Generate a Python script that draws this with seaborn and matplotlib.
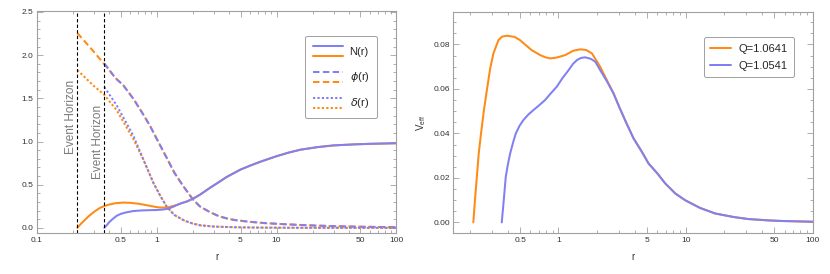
import numpy as np
import matplotlib
matplotlib.use('Agg')
import matplotlib.pyplot as plt
import seaborn as sns
from matplotlib.lines import Line2D
from matplotlib.legend_handler import HandlerBase
from matplotlib.ticker import FixedLocator, FixedFormatter, MultipleLocator, NullFormatter

# ---- data ----
# horizons
r_h = [0.217, 0.365]

# N(r)
rN_or = [0.217, 0.23, 0.25, 0.27, 0.3, 0.336, 0.365, 0.4, 0.45, 0.526, 0.6, 0.7, 0.8,
         0.9, 1.0, 1.1, 1.25, 1.47]
N_or = [0.0, 0.04, 0.09, 0.135, 0.187, 0.232, 0.253, 0.27, 0.285, 0.293, 0.29, 0.28,
        0.266, 0.252, 0.24, 0.234, 0.238, 0.265]
rN_bl = [0.365, 0.375, 0.382, 0.4, 0.43, 0.463, 0.5, 0.55, 0.638, 0.75, 0.879, 1.0,
         1.1, 1.21, 1.35, 1.47]
N_bl = [0.0, 0.02, 0.03, 0.065, 0.105, 0.14, 0.162, 0.178, 0.195, 0.202, 0.205, 0.207,
        0.211, 0.218, 0.24, 0.265]
rN_tail = [1.6, 1.78, 2.02, 2.3, 2.79, 3.3, 3.84, 5, 6, 7.3, 10, 12.5, 15.8, 22, 30,
           45, 60, 80, 100]
N_tail = [0.285, 0.305, 0.34, 0.385, 0.465, 0.53, 0.59, 0.675, 0.72, 0.765, 0.83, 0.87,
          0.905, 0.935, 0.955, 0.967, 0.973, 0.977, 0.98]

# phi(r)
rP_or = [0.217, 0.25, 0.3, 0.365]
P_or = [2.256, 2.16, 2.035, 1.893]
rP_bl = [0.365]
P_bl = [1.905]
rP_tail = [0.4, 0.45, 0.526, 0.638, 0.75, 0.879, 1.0, 1.21, 1.4, 1.67, 2.0, 2.3, 2.8,
           3.3, 3.85, 4.5, 6, 8, 11.4, 15, 20, 30, 50, 100]
P_tail = [1.83, 1.737, 1.65, 1.494, 1.34, 1.18, 1.03, 0.811, 0.64, 0.48, 0.33, 0.246,
          0.18, 0.135, 0.109, 0.09, 0.07, 0.055, 0.043, 0.035, 0.028, 0.02, 0.013, 0.008]

# delta(r)
rD_or = [0.217, 0.25, 0.3, 0.365, 0.463, 0.638]
D_or = [1.827, 1.745, 1.64, 1.54, 1.36, 1.027]
rD_bl = [0.365, 0.463, 0.638]
D_bl = [1.631, 1.417, 1.066]
rD_tail = [0.773, 0.937, 1.07, 1.21, 1.4, 1.67, 1.85, 2.0, 2.3, 3.0, 4.5, 7, 15, 100]
D_tail = [0.79, 0.52, 0.37, 0.246, 0.15, 0.09, 0.065, 0.05, 0.03, 0.015, 0.007, 0.003,
          0.001, 0.0]

# V_eff
rV_or = [0.214, 0.22, 0.228, 0.236, 0.246, 0.26, 0.276, 0.29, 0.308, 0.337, 0.36,
         0.392, 0.45, 0.499, 0.55, 0.617, 0.718, 0.79, 0.86, 0.97, 1.13, 1.3, 1.48,
         1.65, 1.83, 2.0, 2.13, 2.4]
V_or = [0.0, 0.0095, 0.0205, 0.031, 0.040, 0.051, 0.061, 0.069, 0.076, 0.0819, 0.0835,
        0.0839, 0.0834, 0.0819, 0.0798, 0.0774, 0.0752, 0.0742, 0.0737, 0.0741, 0.0752,
        0.0771, 0.0778, 0.0775, 0.076, 0.0725, 0.0699, 0.064]
rV_bl = [0.358, 0.37, 0.385, 0.4, 0.417, 0.44, 0.462, 0.495, 0.53, 0.58, 0.636, 0.7,
         0.785, 0.87, 0.97, 1.08, 1.2, 1.3, 1.4, 1.5, 1.62, 1.8, 1.95, 2.13, 2.4]
V_bl = [0.0, 0.009, 0.0205, 0.026, 0.031, 0.036, 0.040, 0.0435, 0.046, 0.0485, 0.0505,
        0.0525, 0.055, 0.058, 0.061, 0.065, 0.0684, 0.0712, 0.073, 0.0739, 0.0742,
        0.0735, 0.0722, 0.0684, 0.0635]
rV_tail = [2.71, 3.0, 3.4, 3.9, 4.5, 5.11, 6, 6.92, 8.3, 9.9, 13, 17.1, 24, 31.3, 45,
           60, 100]
V_tail = [0.058, 0.052, 0.045, 0.0377, 0.032, 0.0265, 0.022, 0.0175, 0.013, 0.01,
          0.0065, 0.004, 0.0024, 0.0015, 0.0009, 0.0006, 0.0003]

labels_Q = ['Q=1.0641', 'Q=1.0541']

# ---- style ----
sns.set_theme(style="ticks")
plt.rcParams['font.family'] = ['Liberation Sans', 'DejaVu Sans']
plt.rcParams['mathtext.fontset'] = 'dejavusans'

BLUE = '#8080f4'
ORANGE = '#ff8a14'
FRAME = '#a0a0a0'
LW = 1.45
DASH = (0, (3.2, 1.7))
DOT = (0, (1.1, 1.1))


class PairHandler(HandlerBase):
    # two stacked sample lines for one legend label
    def create_artists(self, legend, orig_handle, xdescent, ydescent, width, height,
                       fontsize, trans):
        arts = []
        for frac, h in zip((0.82, 0.18), orig_handle):
            y = height * frac - ydescent
            ln = Line2D([-xdescent, -xdescent + width], [y, y])
            ln.update_from(h)
            ln.set_data([-xdescent, -xdescent + width], [y, y])
            ln.set_transform(trans)
            arts.append(ln)
        return arts


def curve(ax, r, y, color, ls):
    sns.lineplot(x=r, y=y, ax=ax, color=color, linewidth=LW, linestyle=ls,
                 estimator=None, sort=False)
    ax.lines[-1].set_solid_joinstyle('round')
    ax.lines[-1].set_dash_joinstyle('round')


def frame(ax):
    for s in ax.spines.values():
        s.set_color(FRAME)
        s.set_linewidth(0.8)
    ax.tick_params(which='both', direction='in', top=True, right=True,
                   color=FRAME, labelcolor='#333333', labelsize=6, width=0.6, pad=2.5)
    ax.tick_params(which='major', length=4)
    ax.tick_params(which='minor', length=2.2)


fig = plt.figure(figsize=(8.3, 2.74), dpi=100)
ax1 = fig.add_axes([0.0446, 0.1485, 0.4329, 0.811])
ax2 = fig.add_axes([0.5462, 0.1485, 0.4330, 0.8088])

# ---- left panel ----
curve(ax1, rN_or + rN_tail, N_or + N_tail, ORANGE, '-')
curve(ax1, rN_bl + rN_tail, N_bl + N_tail, BLUE, '-')
curve(ax1, rP_or + rP_tail, P_or + P_tail, ORANGE, DASH)
curve(ax1, rP_bl + rP_tail, P_bl + P_tail, BLUE, DASH)
curve(ax1, rD_or + rD_tail, D_or + D_tail, ORANGE, DOT)
curve(ax1, rD_bl + rD_tail, D_bl + D_tail, BLUE, DOT)

for rh in r_h:
    ax1.axvline(rh, color='black', lw=0.8, linestyle=(0, (3, 2)))
ax1.text(0.191, 1.29, 'Event Horizon', rotation=90, ha='center', va='center',
         color='#7a7a7a', fontsize=8.5)
ax1.text(0.321, 0.99, 'Event Horizon', rotation=90, ha='center', va='center',
         color='#7a7a7a', fontsize=8.5)

ax1.set_xscale('log')
ax1.set_xlim(0.1, 100)
ax1.set_ylim(-0.063, 2.51)
xt = [0.1, 0.5, 1, 5, 10, 50, 100]
ax1.xaxis.set_major_locator(FixedLocator(xt))
ax1.xaxis.set_major_formatter(FixedFormatter(['0.1', '0.5', '1', '5', '10', '50', '100']))
minors = [m * 10.0 ** e for e in (-1, 0, 1) for m in range(2, 10) if m != 5]
ax1.xaxis.set_minor_locator(FixedLocator(minors))
ax1.xaxis.set_minor_formatter(NullFormatter())
ax1.yaxis.set_major_locator(MultipleLocator(0.5))
ax1.yaxis.set_minor_locator(MultipleLocator(0.1))
ax1.yaxis.set_major_formatter(plt.FuncFormatter(lambda v, p: f'{v:.1f}'))
ax1.set_xlabel('r', fontsize=7, color='#333333', labelpad=6)
ax1.set_ylabel('')
frame(ax1)

hN = (Line2D([], [], color=BLUE, lw=LW), Line2D([], [], color=ORANGE, lw=LW))
hP = (Line2D([], [], color=BLUE, lw=LW, linestyle=DASH),
      Line2D([], [], color=ORANGE, lw=LW, linestyle=DASH))
hD = (Line2D([], [], color=BLUE, lw=LW, linestyle=DOT),
      Line2D([], [], color=ORANGE, lw=LW, linestyle=DOT))
leg1 = ax1.legend([hN, hP, hD], ['N(r)', r'$\phi$(r)', r'$\delta$(r)'],
                  handler_map={tuple: PairHandler()}, loc='upper right',
                  bbox_to_anchor=(0.962, 0.915), fontsize=8, handlelength=2.7,
                  handleheight=1.8, labelspacing=0.9, handletextpad=0.6,
                  borderpad=0.7, fancybox=True, framealpha=1, edgecolor=FRAME)
leg1.get_frame().set_linewidth(0.7)

# ---- right panel ----
curve(ax2, rV_or + rV_tail, V_or + V_tail, ORANGE, '-')
curve(ax2, rV_bl + rV_tail, V_bl + V_tail, BLUE, '-')

ax2.set_xscale('log')
ax2.set_xlim(0.149, 100)
ax2.set_ylim(-0.0049, 0.0947)
ax2.xaxis.set_major_locator(FixedLocator([0.5, 1, 5, 10, 50, 100]))
ax2.xaxis.set_major_formatter(FixedFormatter(['0.5', '1', '5', '10', '50', '100']))
ax2.xaxis.set_minor_locator(FixedLocator(minors))
ax2.xaxis.set_minor_formatter(NullFormatter())
ax2.yaxis.set_major_locator(MultipleLocator(0.02))
ax2.yaxis.set_minor_locator(MultipleLocator(0.005))
ax2.yaxis.set_major_formatter(plt.FuncFormatter(lambda v, p: f'{v:.2f}'))
ax2.set_xlabel('r', fontsize=7, color='#333333', labelpad=6)
ax2.set_ylabel(r'V$_{\mathregular{eff}}$', fontsize=7, color='#333333', labelpad=4)
frame(ax2)

hQ = [Line2D([], [], color=ORANGE, lw=LW), Line2D([], [], color=BLUE, lw=LW)]
leg2 = ax2.legend(hQ, labels_Q, loc='upper right', bbox_to_anchor=(0.963, 0.91),
                  fontsize=8, handlelength=1.9, handletextpad=0.6, labelspacing=0.6,
                  borderpad=0.6, fancybox=True, framealpha=1, edgecolor=FRAME)
leg2.get_frame().set_linewidth(0.7)

plt.savefig('out.png', dpi=100)
